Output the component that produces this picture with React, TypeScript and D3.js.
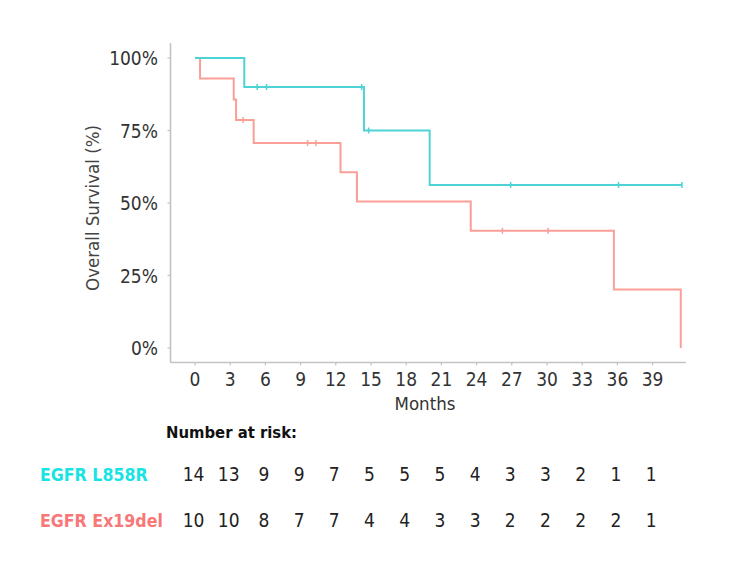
import React from "react";
import * as d3 from "d3";

const xTicks = [0, 3, 6, 9, 12, 15, 18, 21, 24, 27, 30, 33, 36, 39];
const yTicks = [0, 0.25, 0.5, 0.75, 1];
const yTickLabels = ["0%", "25%", "50%", "75%", "100%"];

// EGFR L858R curve (cyan)
const cyanTimes = [0, 4.2, 14.4, 20.0, 41.5];
const cyanSurv = [1, 0.9, 0.75, 0.5625, 0.5625];
const cyanCensor = [5.3, 6.1, 14.2, 14.8, 26.9, 36.1, 41.5];

// EGFR Ex19del curve (red)
const redTimes = [0, 0.43, 3.3, 3.5, 5.0, 12.4, 13.8, 23.5, 35.7, 41.4, 41.4];
const redSurv = [1, 0.929, 0.857, 0.786, 0.707, 0.606, 0.505, 0.404, 0.202, 0, 0];
const redCensor = [4.1, 9.6, 10.3, 26.2, 30.1];

const groups = ["EGFR L858R", "EGFR Ex19del"];
const riskL858R = [14, 13, 9, 9, 7, 5, 5, 5, 4, 3, 3, 2, 1, 1];
const riskEx19del = [10, 10, 8, 7, 7, 4, 4, 3, 3, 2, 2, 2, 2, 1];

const CYAN = "#4dd3d6";
const RED = "#fa9f98";

function survAt(times: number[], surv: number[], t: number) {
  let v = surv[0];
  for (let i = 0; i < times.length; i++) if (times[i] <= t) v = surv[i];
  return v;
}

export default function App() {
  const x = d3.scaleLinear().domain([0, 39]).range([195, 652.6]);
  const y = d3.scaleLinear().domain([0, 1]).range([348, 58]);
  const line = d3
    .line<[number, number]>()
    .x((d) => x(d[0]))
    .y((d) => y(d[1]))
    .curve(d3.curveStepAfter);
  const cyanPts = cyanTimes.map((t, i) => [t, cyanSurv[i]] as [number, number]);
  const redPts = redTimes.map((t, i) => [t, redSurv[i]] as [number, number]);
  const axisColor = "#c4c4c4";
  const font = "'DejaVu Sans Condensed', 'DejaVu Sans', sans-serif";
  const axisY = 362.5;
  const axisX = 170.5;
  const riskRows = [riskL858R, riskEx19del];
  const riskBase = [481, 527];
  const groupColors = ["#19e3e3", "#f87777"];
  const txt = { fontFamily: font, fontStretch: "condensed" as const };

  return (
    <svg
      width={750}
      height={572}
      style={{ position: "absolute", left: 0, top: 0, background: "#fff" }}
    >
      <rect x={0} y={0} width={750} height={572} fill="#fff" />
      {/* axes */}
      <line x1={axisX} x2={axisX} y1={43} y2={axisY} stroke={axisColor} strokeWidth={1.6} />
      <line x1={axisX} x2={686} y1={axisY} y2={axisY} stroke={axisColor} strokeWidth={1.6} />
      {yTicks.map((t, i) => (
        <g key={"yt" + i}>
          <line x1={axisX - 3} x2={axisX} y1={y(t)} y2={y(t)} stroke={axisColor} strokeWidth={1.2} />
          <text
            x={158}
            y={y(t) + 7}
            textAnchor="end"
            style={txt}
            fontSize={19}
            fill="#333"
          >
            {yTickLabels[i]}
          </text>
        </g>
      ))}
      {xTicks.map((t) => (
        <g key={"xt" + t}>
          <line x1={x(t)} x2={x(t)} y1={axisY} y2={axisY + 3} stroke={axisColor} strokeWidth={1.2} />
          <text
            x={x(t)}
            y={385.5}
            textAnchor="middle"
            style={txt}
            fontSize={19}
            fill="#333"
          >
            {t}
          </text>
        </g>
      ))}
      <text x={425} y={410} textAnchor="middle" style={txt} fontSize={18.5} fill="#333">
        Months
      </text>
      <text
        transform={`translate(99,208) rotate(-90)`}
        textAnchor="middle"
        style={txt}
        fontSize={18.5}
        fill="#444"
      >
        Overall Survival (%)
      </text>

      {/* curves */}
      <path d={line(redPts) || ""} fill="none" stroke={RED} strokeWidth={2} />
      <path d={line(cyanPts) || ""} fill="none" stroke={CYAN} strokeWidth={2} />
      {redCensor.map((t, i) => (
        <line
          key={"rc" + i}
          x1={x(t)}
          x2={x(t)}
          y1={y(survAt(redTimes, redSurv, t)) - 3}
          y2={y(survAt(redTimes, redSurv, t)) + 3}
          stroke={RED}
          strokeWidth={1.5}
        />
      ))}
      {cyanCensor.map((t, i) => (
        <line
          key={"cc" + i}
          x1={x(t)}
          x2={x(t)}
          y1={y(survAt(cyanTimes, cyanSurv, t)) - 3}
          y2={y(survAt(cyanTimes, cyanSurv, t)) + 3}
          stroke={CYAN}
          strokeWidth={1.5}
        />
      ))}

      {/* risk table */}
      <text x={166} y={438} style={txt} fontWeight="bold" fontSize={16.5} fill="#111">
        Number at risk:
      </text>
      {groups.map((g, gi) => (
        <g key={g}>
          <text
            x={40}
            y={riskBase[gi]}
            style={txt}
            fontWeight="bold"
            fontSize={17.6}
            fill={groupColors[gi]}
          >
            {g}
          </text>
          {riskRows[gi].map((n, i) => (
            <text
              key={i}
              x={x(xTicks[i]) - 1.5}
              y={riskBase[gi]}
              textAnchor="middle"
              style={txt}
              fontSize={19}
              fill="#222"
            >
              {n}
            </text>
          ))}
        </g>
      ))}
    </svg>
  );
}
